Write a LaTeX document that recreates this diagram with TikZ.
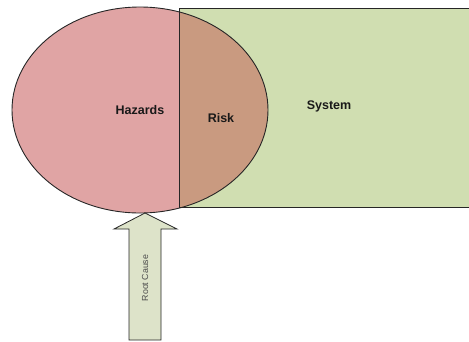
\documentclass[tikz,border=0pt]{standalone}
\usepackage{fontspec}
\setmainfont{Liberation Sans}
\begin{document}
\begin{tikzpicture}[x=1pt,y=-1pt,
  outline/.style={draw=black!85, line width=0.9pt},
  biglabel/.style={font=\fontsize{12.5}{14}\selectfont\bfseries, text=black!90, inner sep=0pt},
  smalllabel/.style={font=\fontsize{8.8}{10}\selectfont, text=black!70, inner sep=0pt}]
\definecolor{hazpink}{HTML}{E0A4A4}
\definecolor{riskbrown}{HTML}{C99A80}
\definecolor{sysgreen}{HTML}{D0DEB1}
\definecolor{arrowfill}{HTML}{DDE3C9}
\clip (0,0) rectangle (469,341);
% System rectangle
\fill[sysgreen] (179,8) rectangle (490,207.5);
% Hazards ellipse
\fill[hazpink] (140,110) ellipse [x radius=128, y radius=103];
% Risk overlap
\begin{scope}
  \clip (140,110) ellipse [x radius=128, y radius=103];
  \fill[riskbrown] (179,8) rectangle (490,207.5);
\end{scope}
\draw[outline] (140,110) ellipse [x radius=128, y radius=103];
\draw[outline] (490,8) -- (179,8) -- (179,207.5) -- (490,207.5);
% Root cause arrow
\draw[outline, fill=arrowfill, line width=0.8pt]
  (145,213) -- (177,229) -- (161,229) -- (161,340) -- (129,340) -- (129,229) -- (114,229) -- cycle;
\node[biglabel] (haz) at (140,110) {Hazards};
\node[biglabel] (risk) at (221,118) {Risk};
\node[biglabel] (sys) at (329,106) {System};
\node[smalllabel, rotate=90] (root) at (145,278) {Root Cause};
\end{tikzpicture}
\end{document}
